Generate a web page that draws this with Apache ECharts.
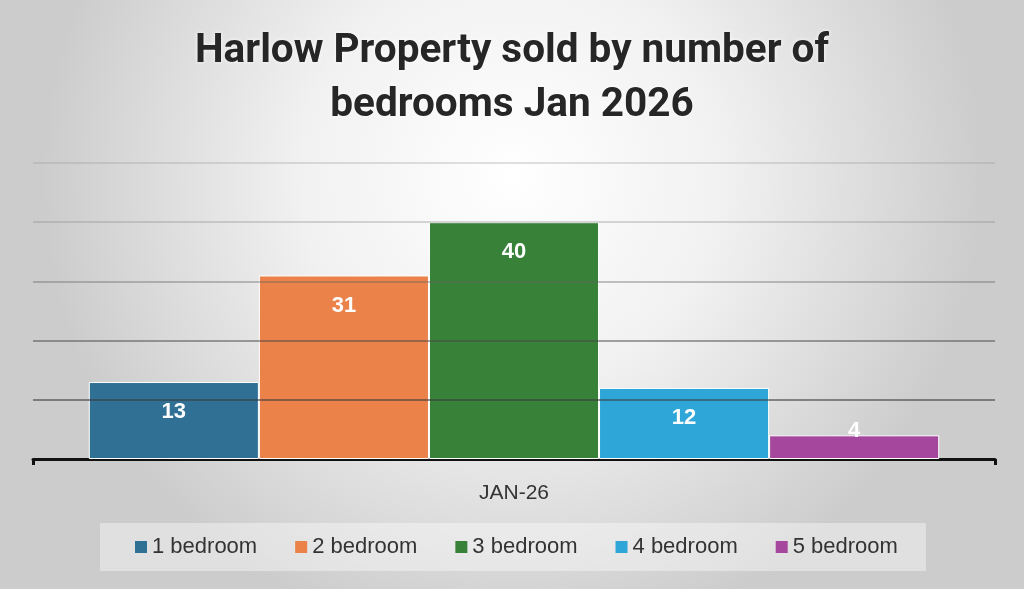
<!DOCTYPE html>
<html>
<head>
<meta charset="utf-8">
<script src="https://cdn.jsdelivr.net/npm/echarts@6/dist/echarts.min.js"></script>
<style>html,body{margin:0;padding:0;}#c{width:1024px;height:589px;}</style>
</head>
<body>
<div id="c"></div>
<script>
const categories = ['JAN-26'];
const seriesNames = ['1 bedroom', '2 bedroom', '3 bedroom', '4 bedroom', '5 bedroom'];
const seriesValues = [13, 31, 40, 12, 4];
const seriesColors = ['#2f7094', '#ea8249', '#378139', '#2ea6d8', '#a4479d'];
const titleText = 'Harlow Property sold by number of\nbedrooms Jan 2026';

const chart = echarts.init(document.getElementById('c'));
const series = seriesNames.map((name, i) => ({
  name: name,
  type: 'bar',
  barGap: '0%',
  barCategoryGap: '11.6%',
  itemStyle: { color: seriesColors[i], borderColor: '#ffffff', borderWidth: 1 },
  label: {
    show: true,
    position: 'insideTop',
    distance: 19,
    color: '#ffffff',
    fontFamily: 'Liberation Sans',
    fontWeight: 'bold',
    fontSize: 22,
    offset: seriesValues[i] < 6 ? [0, -34] : [0, 0]
  },
  data: [seriesValues[i]]
}));

chart.setOption({
  backgroundColor: {
    type: 'radial', x: 0.5, y: 0.3, r: 0.8,
    colorStops: [
      { offset: 0, color: '#ffffff' },
      { offset: 0.45, color: '#f1f1f1' },
      { offset: 1, color: '#cccccc' }
    ]
  },
  animation: false,
  title: {
    text: titleText,
    left: 'center',
    top: 20,
    textStyle: {
      fontFamily: 'Roboto',
      fontWeight: 'bold',
      fontSize: 40.5,
      lineHeight: 54,
      color: '#262626',
      textShadowColor: 'rgba(255,255,255,0.9)',
      textShadowBlur: 4
    }
  },
  grid: { left: 33, right: 29, top: 163, bottom: 130 },
  legend: {
    data: seriesNames,
    top: 523,
    left: 100,
    icon: 'rect',
    itemWidth: 12,
    itemHeight: 12,
    itemGap: 38,
    padding: [13, 28, 13, 35],
    backgroundColor: 'rgba(255,255,255,0.4)',
    itemStyle: { borderWidth: 0 },
    textStyle: { fontFamily: 'Liberation Sans', fontSize: 22, color: '#333333' }
  },
  xAxis: {
    type: 'category',
    data: categories,
    axisLine: { lineStyle: { color: '#111111', width: 3 } },
    axisTick: { show: true, length: 6, lineStyle: { color: '#111111', width: 3 } },
    axisLabel: { margin: 24, fontFamily: 'Liberation Sans', fontSize: 21, color: '#333333' }
  },
  yAxis: {
    type: 'value',
    min: 0,
    max: 50,
    interval: 10,
    z: 5,
    axisLabel: { show: false },
    axisLine: { show: false },
    axisTick: { show: false },
    splitLine: {
      lineStyle: {
        width: 1.5,
        color: ['rgba(0,0,0,0)', 'rgba(60,60,60,0.75)', 'rgba(70,70,70,0.65)', 'rgba(100,100,100,0.5)', 'rgba(140,140,140,0.45)', 'rgba(150,150,150,0.4)']
      }
    }
  },
  series: series
});
</script>
</body>
</html>
